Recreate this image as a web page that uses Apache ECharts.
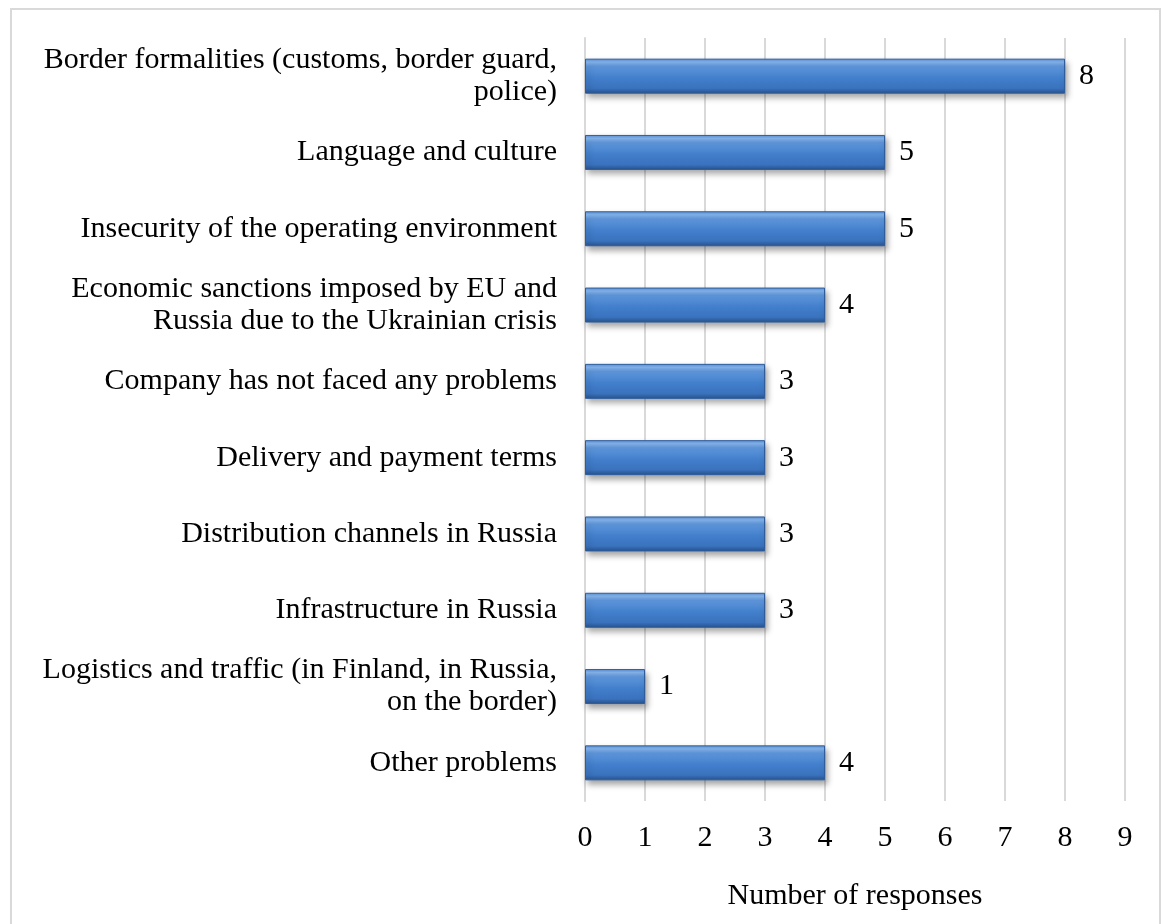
<!DOCTYPE html>
<html>
<head>
<meta charset="utf-8">
<style>
  html, body { margin: 0; padding: 0; background: #ffffff; }
  #chart { width: 1164px; height: 924px; }
</style>
<script src="https://cdn.jsdelivr.net/npm/echarts@6/dist/echarts.min.js"></script>
</head>
<body>
<div id="chart"></div>
<script>
// Problems faced by companies, ordered top to bottom
const categories = [
  'Border formalities (customs, border guard,\npolice)',
  'Language and culture',
  'Insecurity of the operating environment',
  'Economic sanctions imposed by EU and\nRussia due to the Ukrainian crisis',
  'Company has not faced any problems',
  'Delivery and payment terms',
  'Distribution channels in Russia',
  'Infrastructure in Russia',
  'Logistics and traffic (in Finland, in Russia,\non the border)',
  'Other problems'
];
const responses = [8, 5, 5, 4, 3, 3, 3, 3, 1, 4];
const xTicks = [0, 1, 2, 3, 4, 5, 6, 7, 8, 9];
const axisTitle = 'Number of responses';

const FONT = '"Liberation Serif", "DejaVu Serif", serif';
const FS = 30;
const chart = echarts.init(document.getElementById('chart'));

// bevelled blue bar fill
const barFill = new echarts.graphic.LinearGradient(0, 0, 0, 1, [
  { offset: 0.00, color: '#5a8fd6' },
  { offset: 0.10, color: '#86b6ef' },
  { offset: 0.22, color: '#5f97dc' },
  { offset: 0.55, color: '#427fcc' },
  { offset: 0.85, color: '#3a72bd' },
  { offset: 1.00, color: '#27528c' }
]);

chart.setOption({
  animation: false,
  backgroundColor: '#ffffff',
  graphic: [{
    type: 'rect',
    shape: { x: 11, y: 9, width: 1149, height: 930 },
    style: { fill: 'none', stroke: '#d9d9d9', lineWidth: 2 },
    silent: true,
    z: -1
  }],
  grid: { left: 585, right: 39, top: 38, bottom: 123, containLabel: false },
  xAxis: {
    type: 'value',
    min: xTicks[0],
    max: xTicks[xTicks.length - 1],
    interval: 1,
    name: axisTitle,
    nameLocation: 'middle',
    nameGap: 80,
    nameTextStyle: { fontFamily: FONT, fontSize: FS, color: '#000000' },
    axisLine: { show: false },
    axisTick: { show: false },
    axisLabel: { fontFamily: FONT, fontSize: FS, color: '#000000', margin: 22 },
    splitLine: { show: true, lineStyle: { color: '#d9d9d9', width: 2 } }
  },
  yAxis: {
    type: 'category',
    data: categories,
    inverse: true,
    axisLine: { show: true, lineStyle: { color: '#d9d9d9', width: 2 } },
    axisTick: { show: false },
    axisLabel: {
      fontFamily: FONT, fontSize: FS, color: '#000000',
      margin: 28, lineHeight: 32, align: 'right'
    },
    splitLine: { show: false }
  },
  series: [{
    type: 'bar',
    data: responses,
    barWidth: 35,
    itemStyle: {
      color: barFill,
      borderColor: '#2f5d9c',
      borderWidth: 1,
      shadowColor: 'rgba(0,0,0,0.35)',
      shadowBlur: 6,
      shadowOffsetY: 4,
      shadowOffsetX: 2
    },
    label: {
      show: true,
      position: 'right',
      distance: 14,
      fontFamily: FONT,
      fontSize: FS,
      color: '#000000'
    }
  }]
});
</script>
</body>
</html>
